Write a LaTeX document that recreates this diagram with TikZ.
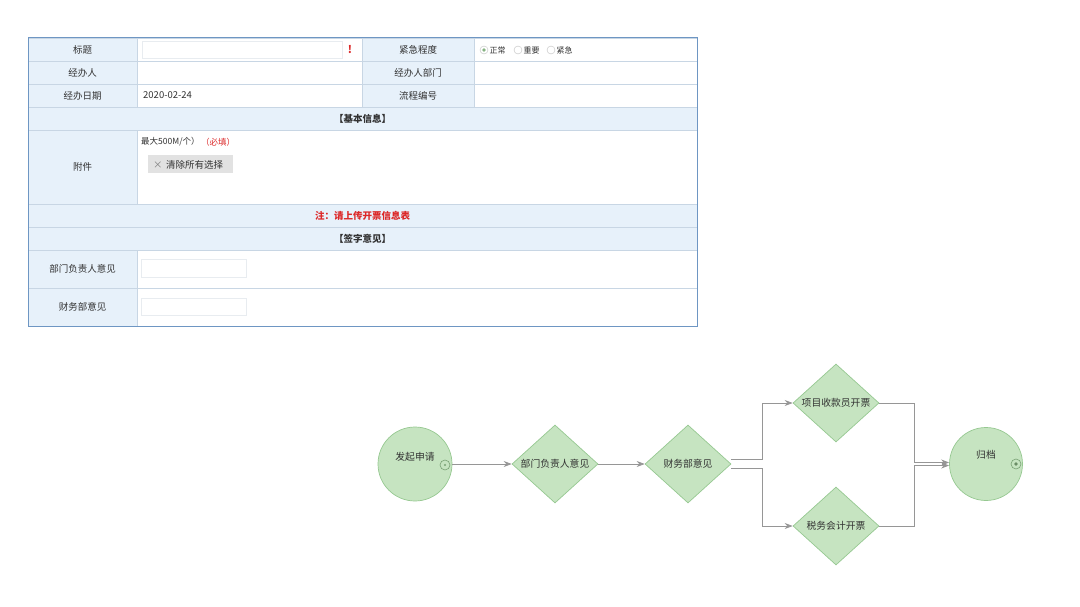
\documentclass[tikz,border=0pt]{standalone}
\usepackage{fontspec}
\setmainfont{Noto Sans CJK SC}
\usetikzlibrary{shapes.geometric,arrows.meta,calc}
\definecolor{tblborder}{RGB}{110,150,195}
\definecolor{tblline}{RGB}{200,214,228}
\definecolor{lblfill}{RGB}{231,241,250}
\definecolor{inbox}{RGB}{232,236,240}
\definecolor{btnfill}{RGB}{226,226,226}
\definecolor{warnred}{RGB}{220,40,40}
\definecolor{flowfill}{RGB}{198,228,193}
\definecolor{flowline}{RGB}{150,200,145}
\definecolor{conncol}{RGB}{150,150,150}
\definecolor{txt}{RGB}{50,50,50}
\begin{document}
\begin{tikzpicture}[x=1pt,y=-1pt,
  every node/.style={text=txt},
  cell/.style={draw=tblline, line width=0.6pt, inner sep=0pt, fill=white},
  lblcell/.style={cell, fill=lblfill},
  tt/.style={font=\fontsize{9.5}{11}\selectfont},
  sm/.style={font=\fontsize{8}{9}\selectfont},
  inputbox/.style={draw=inbox, fill=white, line width=0.6pt, inner sep=0pt},
  radio/.style={circle, draw=black!25, fill=white, minimum size=8pt, inner sep=0pt, line width=0.4pt},
  flowcirc/.style={circle, draw=flowline, fill=flowfill, minimum size=74pt, inner sep=0pt, line width=0.7pt},
  flowdia/.style={diamond, draw=flowline, fill=flowfill, minimum width=86pt, minimum height=78pt, inner sep=0pt, line width=0.7pt},
  flowtxt/.style={font=\fontsize{9.8}{11}\selectfont},
  port/.style={circle, draw=flowline!80!black, fill=flowfill, minimum size=10pt, inner sep=0pt, line width=0.6pt},
  conn/.style={draw=conncol, line width=0.7pt, -{Stealth[length=8pt,width=6pt]}}
]
\path[use as bounding box] (0,0) rectangle (1080,607);

% ---------- table ----------
% row 1
\node[lblcell, minimum width=109pt, minimum height=23pt] (r1a) at (82.5,49.5) {};
\node[cell, minimum width=225pt, minimum height=23pt] (r1b) at (249.5,49.5) {};
\node[lblcell, minimum width=112pt, minimum height=23pt] (r1c) at (418,49.5) {};
\node[cell, minimum width=223pt, minimum height=23pt] (r1d) at (585.5,49.5) {};
% row 2
\node[lblcell, minimum width=109pt, minimum height=23pt] (r2a) at (82.5,72.5) {};
\node[cell, minimum width=225pt, minimum height=23pt] (r2b) at (249.5,72.5) {};
\node[lblcell, minimum width=112pt, minimum height=23pt] (r2c) at (418,72.5) {};
\node[cell, minimum width=223pt, minimum height=23pt] (r2d) at (585.5,72.5) {};
% row 3
\node[lblcell, minimum width=109pt, minimum height=23pt] (r3a) at (82.5,95.5) {};
\node[cell, minimum width=225pt, minimum height=23pt] (r3b) at (249.5,95.5) {};
\node[lblcell, minimum width=112pt, minimum height=23pt] (r3c) at (418,95.5) {};
\node[cell, minimum width=223pt, minimum height=23pt] (r3d) at (585.5,95.5) {};
% row 4 header
\node[lblcell, minimum width=669pt, minimum height=23pt] (r4) at (362.5,118.5) {};
% row 5 attachment
\node[lblcell, minimum width=109pt, minimum height=74pt] (r5a) at (82.5,167) {};
\node[cell, minimum width=560pt, minimum height=74pt] (r5b) at (417,167) {};
% row 6, 7 headers
\node[lblcell, minimum width=669pt, minimum height=23pt] (r6) at (362.5,215.5) {};
\node[lblcell, minimum width=669pt, minimum height=23pt] (r7) at (362.5,238.5) {};
% row 8, 9
\node[lblcell, minimum width=109pt, minimum height=38pt] (r8a) at (82.5,269) {};
\node[cell, minimum width=560pt, minimum height=38pt] (r8b) at (417,269) {};
\node[lblcell, minimum width=109pt, minimum height=38pt] (r9a) at (82.5,307) {};
\node[cell, minimum width=560pt, minimum height=38pt] (r9b) at (417,307) {};
% outer border
\draw[tblborder, line width=1pt] (28,38) rectangle (697,326);

% labels
\node[tt] (t1) at (r1a) {标题};
\node[tt] (t2) at (r2a) {经办人};
\node[tt] (t3) at (r3a) {经办日期};
\node[tt] (t4) at (r1c) {紧急程度};
\node[tt] (t5) at (r2c) {经办人部门};
\node[tt] (t6) at (r3c) {流程编号};
\node[tt, font=\fontsize{9.5}{11}\selectfont\bfseries] (t7) at (r4) {【基本信息】};
\node[tt] (t8) at (r5a) {附件};
\node[tt, font=\fontsize{9.5}{11}\selectfont\bfseries, text=warnred] (t9) at (r6) {注：请上传开票信息表};
\node[tt, font=\fontsize{9.5}{11}\selectfont\bfseries] (t10) at (r7) {【签字意见】};
\node[tt] (t11) at (r8a) {部门负责人意见};
\node[tt] (t12) at (r9a) {财务部意见};

% title input
\node[inputbox, minimum width=200pt, minimum height=17pt] (titlein) at (242,49.5) {};
\node[tt, font=\fontsize{10.5}{11}\selectfont\bfseries, text=warnred] (excl) at (350,49.5) {!};
% radio
\node[radio] (rad1) at (484,50) {};
\fill[flowline!90!black] (rad1) circle (1.8pt);
\node[sm, anchor=west, inner sep=0pt] (rt1) at (489.5,50.5) {正常};
\node[radio] (rad2) at (518,50) {};
\node[sm, anchor=west, inner sep=0pt] (rt2) at (523.5,50.5) {重要};
\node[radio] (rad3) at (551,50) {};
\node[sm, anchor=west, inner sep=0pt] (rt3) at (556.5,50.5) {紧急};
% date
\node[tt, anchor=west, inner sep=0pt] (date) at (143,95.5) {2020-02-24};
% attachment
\node[sm, font=\fontsize{8.5}{9}\selectfont, anchor=west, inner sep=0pt] (maxsz) at (141,142) {最大500M/个）};
\node[sm, font=\fontsize{8.5}{9}\selectfont, anchor=west, inner sep=0pt, text=warnred] (req) at (201,142) {（必填）};
\node[fill=btnfill, minimum width=85pt, minimum height=18pt, inner sep=0pt] (btn) at (190.5,164.5) {};
\node[tt, anchor=west, inner sep=0pt, text=gray] (btnx) at (153,165) {×};
\node[tt, anchor=west, inner sep=0pt] (btnt) at (166,164.5) {清除所有选择};
% opinion inputs
\node[inputbox, minimum width=105pt, minimum height=18pt] (in1) at (193.5,268) {};
\node[inputbox, minimum width=105pt, minimum height=17pt] (in2) at (193.5,306.5) {};

% ---------- flow ----------
\node[flowcirc] (start) at (415,464) {};
\node[flowtxt] (starttxt) at (415,457) {发起申请};
\node[port] (startport) at (445,465) {};
\fill[flowline!80!black] (startport) circle (1.2pt);

\node[flowdia, flowtxt] (d1) at (555,464) {部门负责人意见};
\node[flowdia, flowtxt] (d2) at (688,464) {财务部意见};
\node[flowdia, flowtxt] (d3) at (836,403) {项目收款员开票};
\node[flowdia, flowtxt] (d4) at (836,526) {税务会计开票};

\node[flowcirc, minimum size=73pt] (end) at (986,464) {};
\node[flowtxt] (endtxt) at (986,455) {归档};
\node[port] (endport) at (1016,464) {};
\fill[flowline!70!black] (endport) circle (1.8pt);

\draw[conn] (start.east) -- (d1.west);
\draw[conn] (d1.east) -- (d2.west);
\draw[conn] ([yshift=4.5pt]d2.east) -- ++(31,0) |- (d3.west);
\draw[conn] ([yshift=-4pt]d2.east) -- ++(31,0) |- (d4.west);
\draw[conn] (d3.east) -- ++(35,0) |- ([yshift=1.5pt]end.west);
\draw[conn] (d4.east) -- ++(35,0) |- ([yshift=-1.5pt]end.west);
\end{tikzpicture}
\end{document}
